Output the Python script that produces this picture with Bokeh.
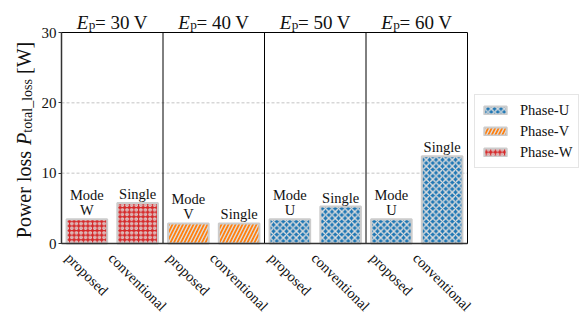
import math
from bokeh.plotting import figure
from bokeh.models import (ColumnDataSource, LabelSet, Label, Legend,
                          LegendItem, FixedTicker, Range1d, LinearAxis)
from bokeh.core.properties import value
from bokeh.embed import file_html
from bokeh.resources import INLINE

# ---------------- data ----------------
voltages = [30, 40, 50, 60]
methods = ["proposed", "conventional"]
proposed_loss = [3.45, 2.85, 3.45, 3.45]
conventional_loss = [5.75, 2.85, 5.25, 12.4]
proposed_phase = ["W", "V", "U", "U"]
conventional_phase = ["W", "V", "U", "U"]
proposed_note = ["Mode\nW", "Mode\nV", "Mode\nU", "Mode\nU"]
conventional_note = ["Single", "Single", "Single", "Single"]
phases = ["U", "V", "W"]
y_ticks = [0, 10, 20, 30]
y_max = 30

# ---------------- layout / styles ----------------
W, H = 588, 326
PLOT_L, PLOT_R, PLOT_T, PLOT_B = 61, 467, 32, 243   # pixel box of the axes area
FONT = "Liberation Serif"
TXT = "#111111"
phase_color = {"U": "#1f77b4", "V": "#ff7f0e", "W": "#d62728"}
phase_hatch = {"U": "x", "V": "/", "W": "o"}
phase_hatch_scale = {"U": 6.5, "V": 7.0, "W": 4.6}
phase_hatch_weight = {"U": 1.4, "V": 1.4, "W": 1.2}

TW = {' ': .25, 'a': .444, 'c': .444, 'd': .5, 'e': .444, 'g': .5, 'h': .5,
      'i': .278, 'l': .278, 'n': .5, 'o': .5, 'p': .5, 'r': .333, 's': .389,
      't': .278, 'v': .5, 'w': .722, '_': .5, '[': .333, ']': .333, 'W': .944,
      'P': .611, '=': .564, 'V': .722, 'E': .611}


def tw(s, size):
    return sum(TW.get(c, .5) for c in s) * size


n_groups = len(voltages)
bar_w = 0.4
slot = [0.25, 0.75]

# ranges chosen so that the data box [0, n] x [0, y_max] lands on the pixel box
xs = (PLOT_R - PLOT_L) / n_groups
ys = (PLOT_B - PLOT_T) / y_max
x_range = Range1d(-PLOT_L / xs, (W - PLOT_L) / xs)
y_range = Range1d(-(H - PLOT_B) / ys, y_max + PLOT_T / ys)

rows = {ph: dict(x=[], top=[]) for ph in phases}
all_x, all_method, all_off = [], [], []
note_rows = []   # (x, top, text, line index from bottom)
for i in range(n_groups):
    for j, (loss, ph, note) in enumerate([
            (proposed_loss[i], proposed_phase[i], proposed_note[i]),
            (conventional_loss[i], conventional_phase[i], conventional_note[i])]):
        xx = i + slot[j]
        rows[ph]["x"].append(xx)
        rows[ph]["top"].append(loss)
        all_x.append(xx)
        all_method.append(methods[j])
        w = tw(methods[j], 14.5)
        all_off.append(-(8 + (w + 11.0) * math.sin(math.pi / 4) / 2))
        for k, t in enumerate(reversed(note.split("\n"))):
            note_rows.append((xx, loss, t, k))

p = figure(frame_width=W, frame_height=H, output_backend="svg",
           toolbar_location=None, x_range=x_range, y_range=y_range,
           x_axis_location=None, y_axis_location=None,
           min_border=0, min_border_left=0, min_border_right=0,
           min_border_top=0, min_border_bottom=0)
p.grid.visible = False
p.background_fill_color = "white"
p.border_fill_color = "white"
p.outline_line_color = None

# grid lines (dashed) inside the axes box
grid_y = [t for t in y_ticks if 0 < t < y_max]
p.segment(x0=[0] * len(grid_y), x1=[n_groups] * len(grid_y), y0=grid_y,
          y1=grid_y, line_color="#b5b5b5", line_dash="3 2", line_width=0.8)

# bars
renderers = {}
for ph in phases:
    src = ColumnDataSource(rows[ph])
    renderers[ph] = p.vbar(x="x", top="top", width=bar_w, bottom=0, source=src,
                           fill_color=phase_color[ph], line_color="#cccccc",
                           line_width=2, hatch_pattern=phase_hatch[ph],
                           hatch_color="#dedede", hatch_scale=phase_hatch_scale[ph],
                           hatch_weight=phase_hatch_weight[ph])

# panel separators and box
sep = list(range(1, n_groups))
p.segment(x0=sep, x1=sep, y0=[0] * len(sep), y1=[y_max] * len(sep),
          line_color="black", line_width=1)
p.quad(left=[0], right=[n_groups], bottom=[0], top=[y_max], fill_color=None,
       line_color="black", line_width=1)

# axes
yax = LinearAxis(fixed_location=0, bounds=(0, y_max),
                 ticker=FixedTicker(ticks=y_ticks))
yax.major_label_text_font = FONT
yax.major_label_text_font_size = "15px"
yax.major_label_text_color = TXT
yax.major_tick_out = 3
yax.major_tick_in = 0
yax.major_label_standoff = 2
yax.minor_tick_line_color = None
yax.axis_line_color = "#333333"
yax.axis_line_width = 1.5
yax.major_tick_line_color = "#333333"
p.add_layout(yax, "left")

xax = LinearAxis(fixed_location=0, bounds=(0, n_groups),
                 ticker=FixedTicker(ticks=[]))
xax.major_label_text_font_size = "0px"
xax.major_tick_line_color = None
xax.minor_tick_line_color = None
xax.axis_line_color = "#333333"
xax.axis_line_width = 1.5
p.add_layout(xax, "below")

# notes above bars
for k in sorted(set(r[3] for r in note_rows)):
    sel = [r for r in note_rows if r[3] == k]
    src = ColumnDataSource(dict(x=[r[0] for r in sel], y=[r[1] for r in sel],
                                text=[r[2] for r in sel]))
    p.add_layout(LabelSet(x="x", y="y", text="text", source=src,
                          y_offset=4 + 15 * k, text_align="center",
                          text_baseline="alphabetic", text_font=value(FONT),
                          text_font_size=value("14.5px"), text_color=TXT))

# rotated category labels
lab_src = ColumnDataSource(dict(x=all_x, method=all_method, off=all_off,
                                zero=[0] * len(all_x)))
p.add_layout(LabelSet(x="x", y="zero", text="method", source=lab_src,
                      y_offset="off", angle=-math.pi / 4, text_align="center",
                      text_baseline="middle", text_font=value(FONT),
                      text_font_size=value("14.5px"), text_color=TXT))

# panel titles  E_p= xx V
TS, SS = 19, 13.3
for i, v in enumerate(voltages):
    rest = f"= {v} V"
    wE, wp, wr = tw("E", TS), tw("p", SS), tw(rest, TS)
    start = -(wE + wp + wr) / 2
    common = dict(x=i + 0.5, y=y_max, text_font=FONT, text_align="left",
                  text_baseline="alphabetic", text_color=TXT)
    p.add_layout(Label(text="E", x_offset=start, y_offset=10,
                       text_font_size=f"{TS}px", text_font_style="italic", **common))
    p.add_layout(Label(text="p", x_offset=start + wE + 0.5, y_offset=8,
                       text_font_size=f"{SS}px", **common))
    p.add_layout(Label(text=rest, x_offset=start + wE + wp, y_offset=10,
                       text_font_size=f"{TS}px", **common))

# y-axis label  Power loss P_total_loss [W]
YS, YSS = 20, 14
pieces = [("Power loss", YS, "normal", 0, tw(" ", YS)),
          ("P", YS, "italic", 0, 0),
          ("total_loss", YSS, "normal", 4, tw(" ", YS)),
          ("[W]", YS, "normal", 0, 0)]
total = sum(tw(t, s) + g for t, s, _, _, g in pieces)
pos = -total / 2 - 2
for t, s, st, sh, gap in pieces:
    p.add_layout(Label(text=t, x=0, y=y_max / 2, x_offset=-38 + sh, y_offset=pos,
                       angle=math.pi / 2, text_font=FONT,
                       text_font_size=f"{s}px", text_font_style=st,
                       text_align="left", text_baseline="alphabetic",
                       text_color=TXT))
    pos += tw(t, s) + gap

legend = Legend(items=[LegendItem(label=f"Phase-{ph}", renderers=[renderers[ph]])
                       for ph in phases],
                location=(474, H - 168), margin=0, padding=6, spacing=3,
                glyph_width=28, glyph_height=10, label_height=18,
                label_standoff=11, label_text_font=FONT,
                label_text_font_size="14.5px", label_text_color=TXT,
                border_line_color="#cccccc", border_line_width=1,
                background_fill_color="white")
p.add_layout(legend)

open("out.html", "w").write(file_html(p, INLINE))
